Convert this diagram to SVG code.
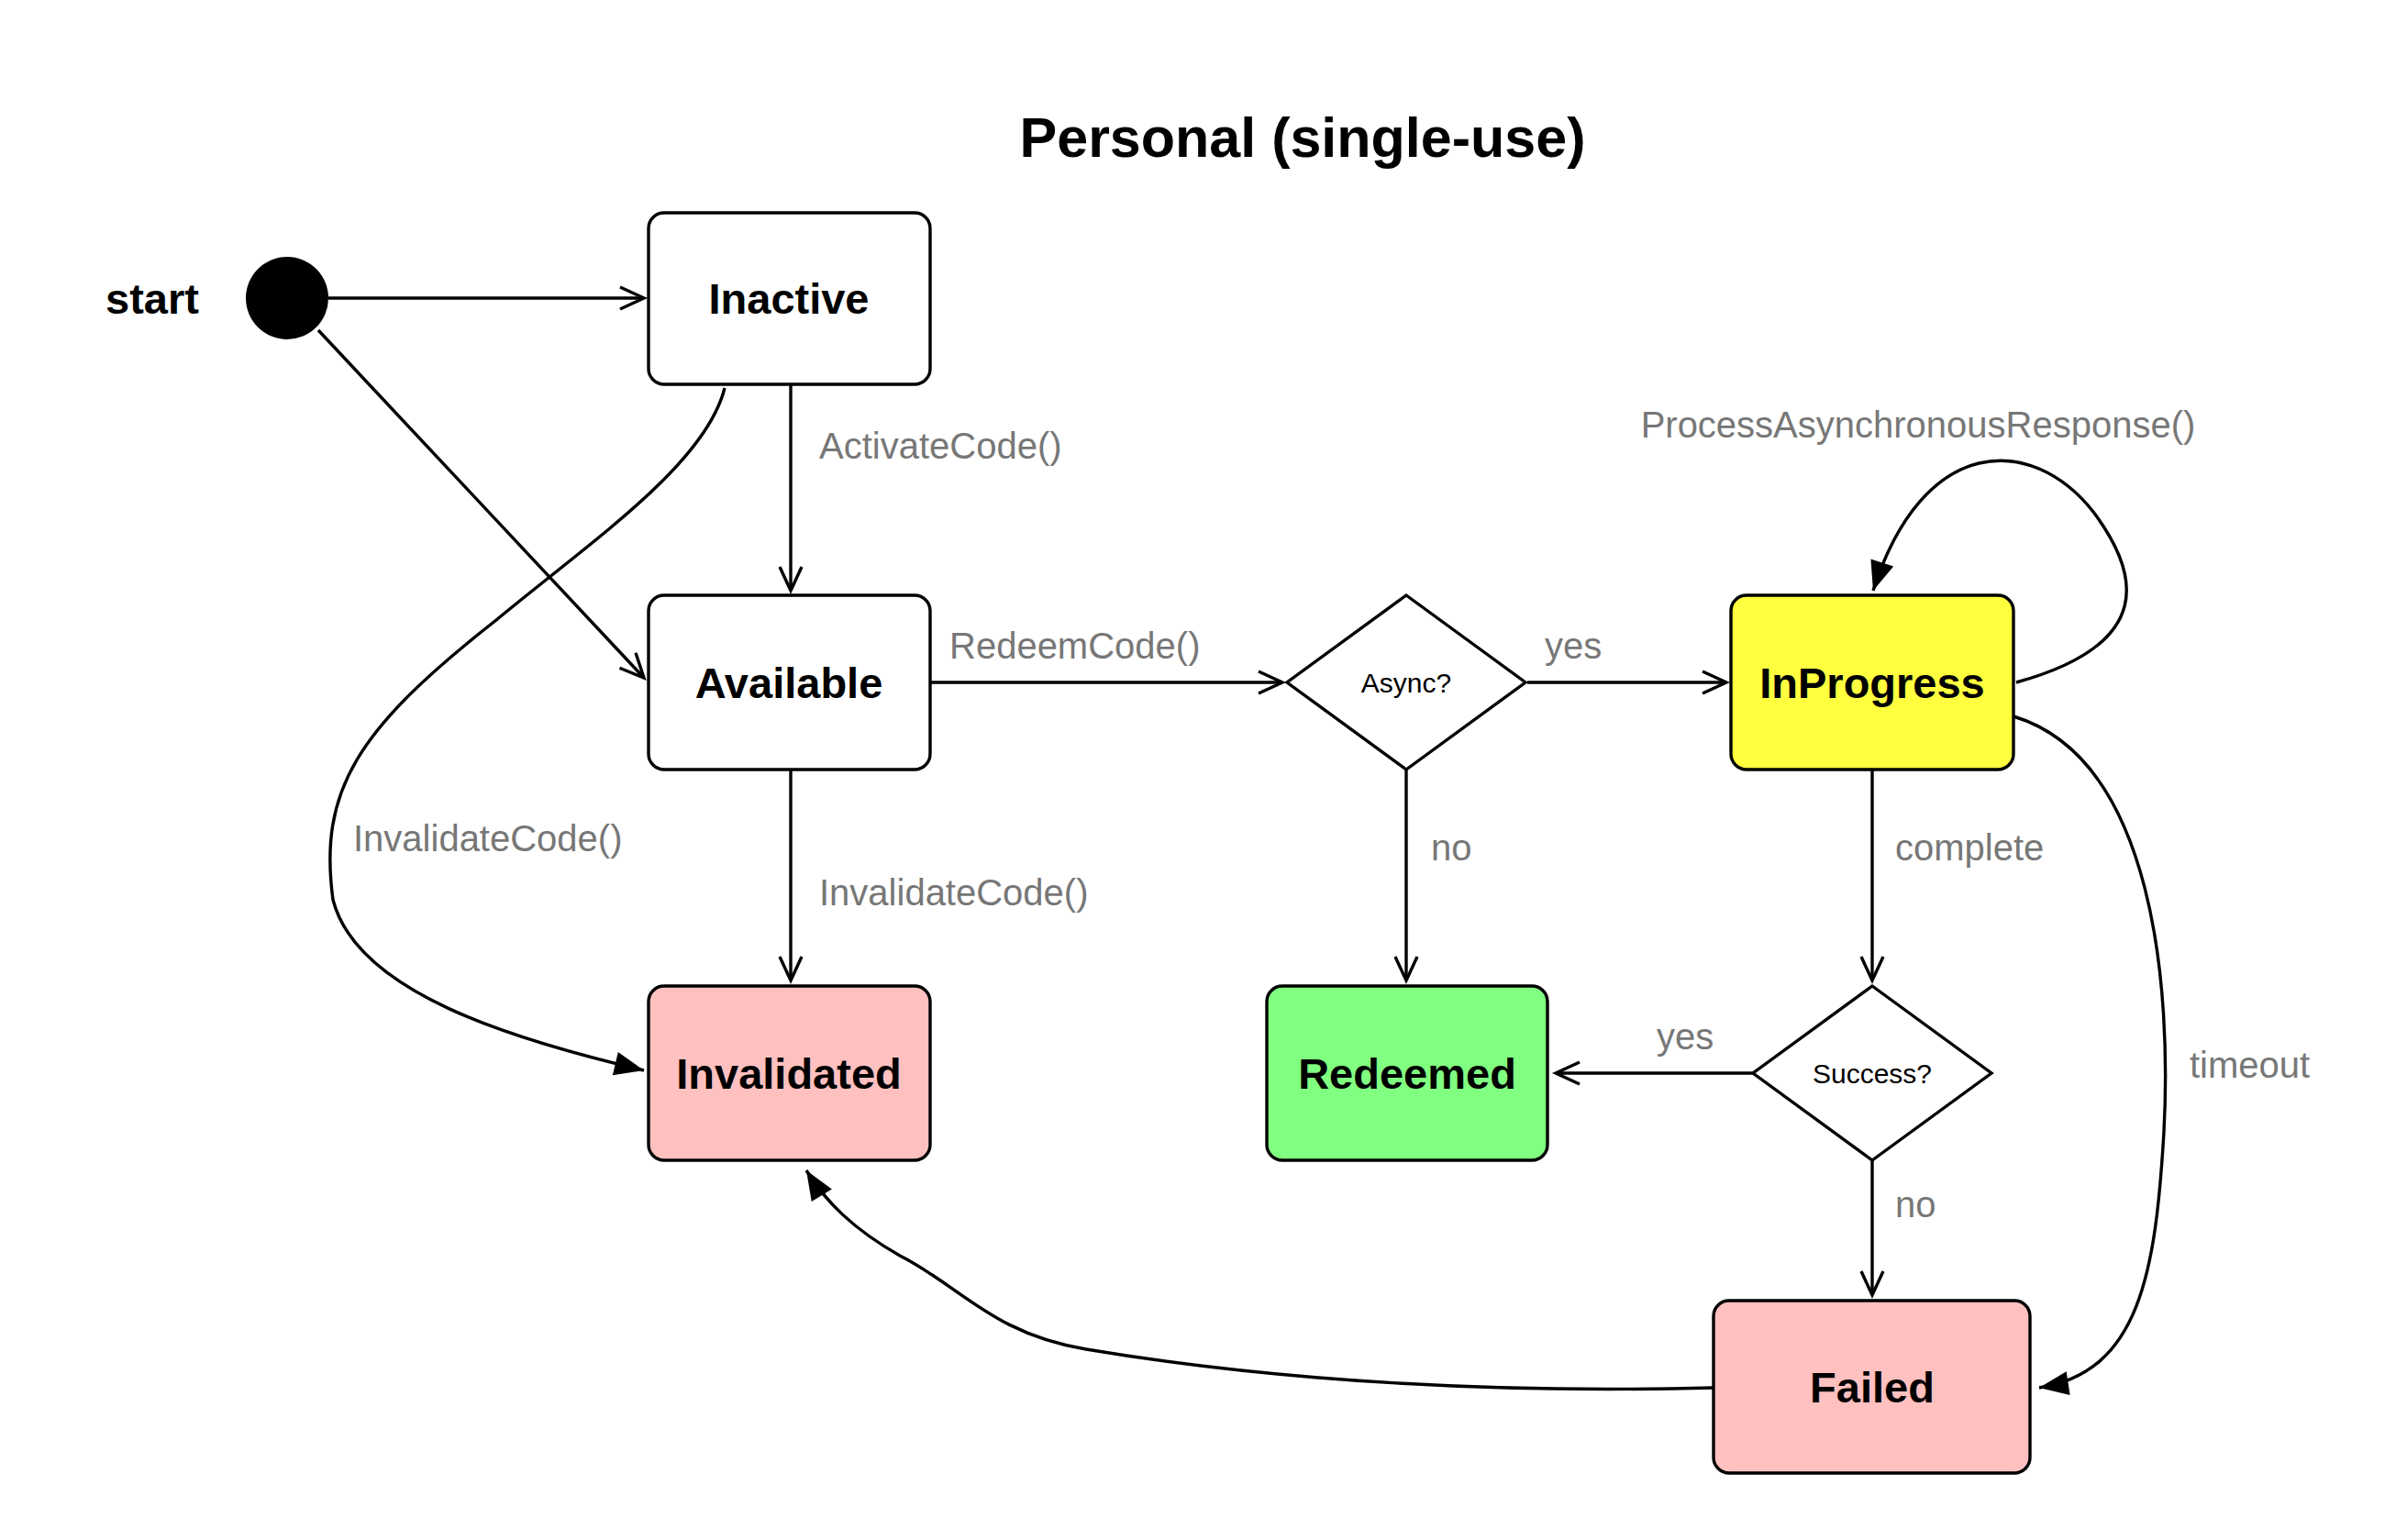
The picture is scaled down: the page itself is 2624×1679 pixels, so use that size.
<svg xmlns="http://www.w3.org/2000/svg" width="2624" height="1679" viewBox="0 0 2624 1679">
<style>
.n{fill:#fff;stroke:#000;stroke-width:3.4}
.t{font-family:"Liberation Sans",Arial,sans-serif;font-weight:bold;font-size:47px;text-anchor:middle;dominant-baseline:central}
.d{font-family:"Liberation Sans",Arial,sans-serif;font-size:30px;text-anchor:middle;dominant-baseline:central}
.l{font-family:"Liberation Sans",Arial,sans-serif;font-size:40px;fill:#777}
.e{fill:none;stroke:#000;stroke-width:3.4}
.o{marker-end:url(#open)}
.f{marker-end:url(#fill)}
</style>
<defs>
<marker id="open" markerUnits="userSpaceOnUse" markerWidth="40" markerHeight="40" refX="30" refY="20" orient="auto"><path d="M4,8 L30,20 L4,32" fill="none" stroke="#000" stroke-width="3.4"/></marker>
<marker id="fill" markerUnits="userSpaceOnUse" markerWidth="40" markerHeight="40" refX="34" refY="20" orient="auto"><path d="M2,7 L34,20 L2,33 Z" fill="#000"/></marker>
</defs>
<rect width="2624" height="1679" fill="#fff"/>
<text x="1420" y="150" class="t" style="font-size:61px">Personal (single-use)</text>
<g id="start"><text x="166" y="325" class="t">start</text><circle cx="313" cy="325" r="45" fill="#000"/></g>
<g id="inactive"><rect class="n" x="707" y="232" width="307" height="187" rx="17"/><text class="t" x="860" y="325">Inactive</text></g>
<g id="available"><rect class="n" x="707" y="649" width="307" height="190" rx="17"/><text class="t" x="860" y="744">Available</text></g>
<g id="invalidated"><rect class="n" style="fill:#ffc0c0" x="707" y="1075" width="307" height="190" rx="17"/><text class="t" x="860" y="1170">Invalidated</text></g>
<g id="async"><path class="n" d="M1533,649 L1663,744 L1533,839 L1403,744 Z"/><text class="d" x="1533" y="744">Async?</text></g>
<g id="inprogress"><rect class="n" style="fill:#ffff40" x="1887" y="649" width="308" height="190" rx="17"/><text class="t" x="2041" y="744">InProgress</text></g>
<g id="redeemed"><rect class="n" style="fill:#80ff80" x="1381" y="1075" width="306" height="190" rx="17"/><text class="t" x="1534" y="1170">Redeemed</text></g>
<g id="success"><path class="n" d="M2041,1075 L2171,1170 L2041,1265 L1911,1170 Z"/><text class="d" x="2041" y="1170">Success?</text></g>
<g id="failed"><rect class="n" style="fill:#ffc0c0" x="1868" y="1418" width="345" height="188" rx="17"/><text class="t" x="2041" y="1512">Failed</text></g>
<g id="edges">
<path class="e o" d="M358,325 L702,325"/>
<path class="e o" d="M347,360 L702,739"/>
<path class="e o" d="M862,419 L862,644"/>
<text class="l" x="893" y="500">ActivateCode()</text>
<path class="e f" d="M790,423 C769,507 642,592 541,676 C389,795 347,862 363,981 C389,1082 558,1133 702,1167"/>
<text class="l" x="385" y="928">InvalidateCode()</text>
<path class="e o" d="M862,839 L862,1069"/>
<text class="l" x="893" y="987">InvalidateCode()</text>
<path class="e o" d="M1014,744 L1398,744"/>
<text class="l" x="1035" y="718">RedeemCode()</text>
<path class="e o" d="M1665,744 L1882,744"/>
<text class="l" x="1684" y="718">yes</text>
<path class="e o" d="M1533,839 L1533,1069"/>
<text class="l" x="1560" y="938">no</text>
<path class="e f" d="M2198,744 C2350,702 2333,626 2282,558 C2215,473 2097,473 2042,644"/>
<text class="l" x="2091" y="477" text-anchor="middle">ProcessAsynchronousResponse()</text>
<path class="e o" d="M2041,839 L2041,1069"/>
<text class="l" x="2066" y="938">complete</text>
<path class="e o" d="M1911,1170 L1696,1170"/>
<text class="l" x="1806" y="1144">yes</text>
<path class="e o" d="M2041,1265 L2041,1412"/>
<text class="l" x="2066" y="1327">no</text>
<path class="e f" d="M2195,781 C2350,828 2367,1082 2359,1234 C2350,1386 2333,1496 2223,1513"/>
<text class="l" x="2387" y="1175">timeout</text>
<path class="e f" d="M1868,1513 C1522,1522 1285,1488 1184,1471 C1082,1454 1048,1403 981,1369 C930,1340 900,1310 879,1276"/>
</g>
</svg>
